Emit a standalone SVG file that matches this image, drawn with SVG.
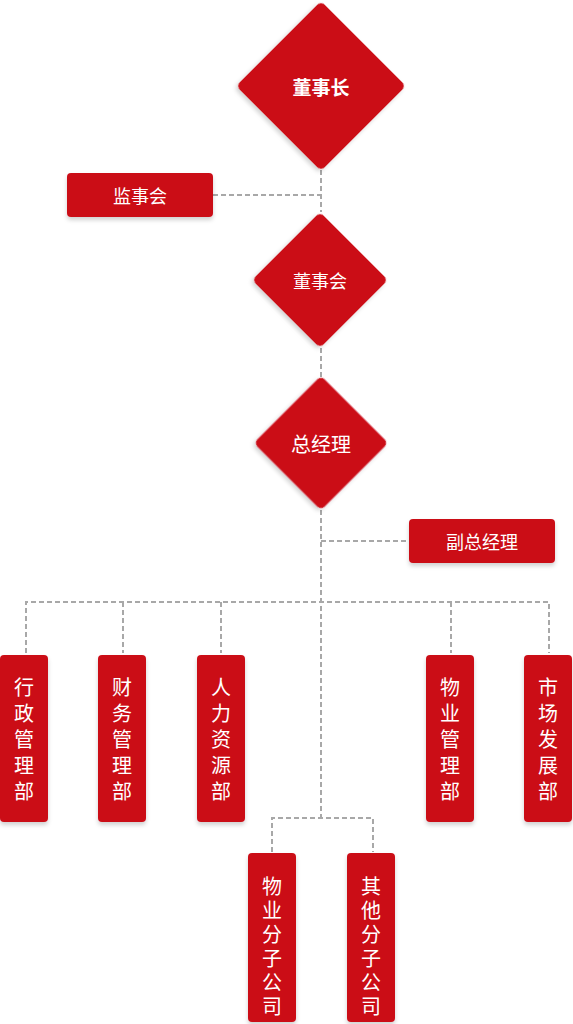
<svg xmlns="http://www.w3.org/2000/svg" width="573" height="1024" viewBox="0 0 573 1024">
<style>
.n{fill:#CB0A16;filter:url(#sh)}
.t{fill:#fff;font-family:"Noto Sans CJK SC","Noto Sans",sans-serif;text-anchor:middle;dominant-baseline:central}
.v{fill:#fff;font-family:"Noto Sans CJK SC","Noto Sans",sans-serif;font-size:20px;text-anchor:middle;writing-mode:vertical-rl;glyph-orientation-vertical:0}
.c{fill:none;stroke:#A8A8A8;stroke-width:2;stroke-dasharray:5 3}
</style>
<defs>
<filter id="sh" x="-20%" y="-20%" width="140%" height="140%">
<feDropShadow dx="0" dy="3" stdDeviation="2" flood-color="#000" flood-opacity="0.18"/>
</filter>
</defs>
<g id="connectors">
<path class="c" d="M321 170V212M321 348V377M321 510V818"/>
<path class="c" d="M213 195H321"/>
<path class="c" d="M321 541H409"/>
<path class="c" d="M26 653V602H549V653M123 602V653M221 602V653M451 602V653"/>
<path class="c" d="M272 852V818H373V852"/>
</g>
<g id="n-dongshizhang">
<rect class="n" x="261" y="26" width="120" height="120" rx="5" transform="rotate(45 321 86)"/>
<text class="t" x="321" y="86" font-size="19" font-weight="bold">董事长</text>
</g>
<g id="n-jianshihui">
<rect class="n" x="67" y="173" width="146" height="44" rx="4"/>
<text class="t" x="140" y="195" font-size="18">监事会</text>
</g>
<g id="n-dongshihui">
<rect class="n" x="272" y="232" width="96" height="96" rx="5" transform="rotate(45 320 280)"/>
<text class="t" x="320" y="280" font-size="18">董事会</text>
</g>
<g id="n-zongjingli">
<rect class="n" x="273.5" y="395.5" width="95" height="95" rx="5" transform="rotate(45 321 443)"/>
<text class="t" x="321" y="443" font-size="20">总经理</text>
</g>
<g id="n-fuzongjingli">
<rect class="n" x="409" y="519" width="146" height="44" rx="4"/>
<text class="t" x="482" y="541" font-size="18">副总经理</text>
</g>
<g id="n-xingzheng">
<rect class="n" x="0" y="655" width="48" height="167" rx="4"/>
<text class="v" x="24" y="742" letter-spacing="6">行政管理部</text>
</g>
<g id="n-caiwu">
<rect class="n" x="98" y="655" width="48" height="167" rx="4"/>
<text class="v" x="122" y="742" letter-spacing="6">财务管理部</text>
</g>
<g id="n-renli">
<rect class="n" x="197" y="655" width="48" height="167" rx="4"/>
<text class="v" x="221" y="742" letter-spacing="6">人力资源部</text>
</g>
<g id="n-wuyeguanli">
<rect class="n" x="426" y="655" width="48" height="167" rx="4"/>
<text class="v" x="450" y="742" letter-spacing="6">物业管理部</text>
</g>
<g id="n-shichang">
<rect class="n" x="524" y="655" width="48" height="167" rx="4"/>
<text class="v" x="548" y="742" letter-spacing="6">市场发展部</text>
</g>
<g id="n-wuyefen">
<rect class="n" x="248" y="853" width="48" height="169" rx="4"/>
<text class="v" x="272" y="948" letter-spacing="4">物业分子公司</text>
</g>
<g id="n-qitafen">
<rect class="n" x="347" y="853" width="48" height="169" rx="4"/>
<text class="v" x="371" y="948" letter-spacing="4">其他分子公司</text>
</g>
</svg>
